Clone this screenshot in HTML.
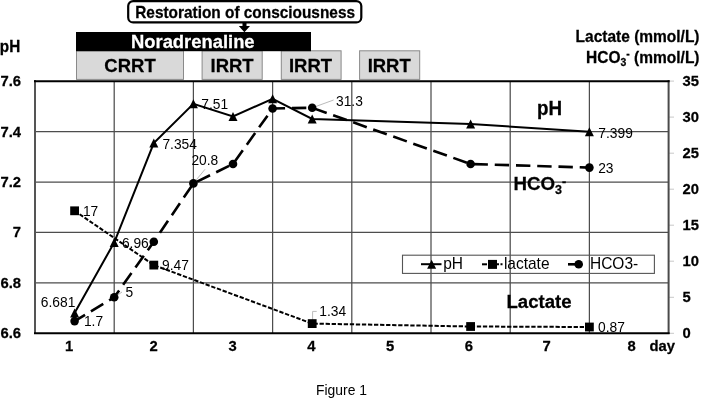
<!DOCTYPE html>
<html><head><meta charset="utf-8"><style>
html,body{margin:0;padding:0;background:#fff;width:709px;height:399px;overflow:hidden;}
svg{display:block;font-family:"Liberation Sans",sans-serif;will-change:transform;}
</style></head><body>
<svg width="709" height="399" viewBox="0 0 709 399">
<rect width="709" height="399" fill="#fff"/>
<line x1="114.2" y1="81" x2="114.2" y2="333" stroke="#4d4d4d" stroke-width="1.25"/>
<line x1="193.4" y1="81" x2="193.4" y2="333" stroke="#4d4d4d" stroke-width="1.25"/>
<line x1="272.6" y1="81" x2="272.6" y2="333" stroke="#4d4d4d" stroke-width="1.25"/>
<line x1="351.8" y1="81" x2="351.8" y2="333" stroke="#4d4d4d" stroke-width="1.25"/>
<line x1="431.0" y1="81" x2="431.0" y2="333" stroke="#4d4d4d" stroke-width="1.25"/>
<line x1="510.2" y1="81" x2="510.2" y2="333" stroke="#4d4d4d" stroke-width="1.25"/>
<line x1="589.4" y1="81" x2="589.4" y2="333" stroke="#4d4d4d" stroke-width="1.25"/>
<line x1="35" y1="131.5" x2="668.6" y2="131.5" stroke="#4d4d4d" stroke-width="1.25"/>
<line x1="35" y1="182.0" x2="668.6" y2="182.0" stroke="#4d4d4d" stroke-width="1.25"/>
<line x1="35" y1="232.4" x2="668.6" y2="232.4" stroke="#4d4d4d" stroke-width="1.25"/>
<line x1="35" y1="282.9" x2="668.6" y2="282.9" stroke="#4d4d4d" stroke-width="1.25"/>
<line x1="668.6" y1="333.3" x2="674" y2="333.3" stroke="#c8c8c8" stroke-width="1"/>
<line x1="668.6" y1="297.3" x2="674" y2="297.3" stroke="#c8c8c8" stroke-width="1"/>
<line x1="668.6" y1="261.2" x2="674" y2="261.2" stroke="#c8c8c8" stroke-width="1"/>
<line x1="668.6" y1="225.2" x2="674" y2="225.2" stroke="#c8c8c8" stroke-width="1"/>
<line x1="668.6" y1="189.2" x2="674" y2="189.2" stroke="#c8c8c8" stroke-width="1"/>
<line x1="668.6" y1="153.2" x2="674" y2="153.2" stroke="#c8c8c8" stroke-width="1"/>
<line x1="668.6" y1="117.1" x2="674" y2="117.1" stroke="#c8c8c8" stroke-width="1"/>
<line x1="668.6" y1="81.1" x2="674" y2="81.1" stroke="#c8c8c8" stroke-width="1"/>
<line x1="35" y1="80" x2="35" y2="334" stroke="#555" stroke-width="2"/>
<line x1="668.6" y1="80" x2="668.6" y2="334" stroke="#4a4a4a" stroke-width="2"/>
<line x1="34" y1="81.2" x2="669.6" y2="81.2" stroke="#000" stroke-width="2"/>
<line x1="34" y1="333.3" x2="669.6" y2="333.3" stroke="#000" stroke-width="2"/>
<rect x="402.5" y="255.2" width="251.9" height="18.2" fill="none" stroke="#555" stroke-width="1.1"/>
<polyline points="74.6,210.8 153.8,265.1 312.2,323.6 470.6,326.5 589.4,327.0" fill="none" stroke="#000" stroke-width="2" stroke-dasharray="4.3,1.75"/>
<polyline points="74.6,321.1 114.2,297.3 153.8,241.8 193.4,183.4 233.0,164.0 272.6,108.5 312.2,107.8 470.6,164.0 589.4,167.6" fill="none" stroke="#000" stroke-width="2.6" stroke-dasharray="14.4,6.85" stroke-dashoffset="2.20"/>
<polyline points="74.6,312.9 114.2,242.5 153.8,143.1 193.4,103.8 233.0,116.4 272.6,98.8 312.2,118.9 470.6,124.0 589.4,131.8" fill="none" stroke="#000" stroke-width="2"/>
<line x1="114.2" y1="297.3" x2="122" y2="292" stroke="#bbb" stroke-width="1"/>
<line x1="193.4" y1="183.4" x2="205" y2="169.3" stroke="#bbb" stroke-width="1"/>
<line x1="312.2" y1="107.8" x2="333.6" y2="100" stroke="#bbb" stroke-width="1"/>
<polyline points="312.6,323.6 312.6,311.4 316.7,311.4" fill="none" stroke="#bbb" stroke-width="1"/>
<rect x="70.2" y="206.4" width="8.8" height="8.8" fill="#000"/>
<rect x="149.4" y="260.7" width="8.8" height="8.8" fill="#000"/>
<rect x="307.8" y="319.2" width="8.8" height="8.8" fill="#000"/>
<rect x="466.2" y="322.1" width="8.8" height="8.8" fill="#000"/>
<rect x="585.0" y="322.6" width="8.8" height="8.8" fill="#000"/>
<circle cx="74.6" cy="321.1" r="4.3" fill="#000"/>
<circle cx="114.2" cy="297.3" r="4.3" fill="#000"/>
<circle cx="153.8" cy="241.8" r="4.3" fill="#000"/>
<circle cx="193.4" cy="183.4" r="4.3" fill="#000"/>
<circle cx="233.0" cy="164.0" r="4.3" fill="#000"/>
<circle cx="272.6" cy="108.5" r="4.3" fill="#000"/>
<circle cx="312.2" cy="107.8" r="4.3" fill="#000"/>
<circle cx="470.6" cy="164.0" r="4.3" fill="#000"/>
<circle cx="589.4" cy="167.6" r="4.3" fill="#000"/>
<polygon points="70.1,317.4 79.1,317.4 74.6,308.4" fill="#000"/>
<polygon points="109.7,247.0 118.7,247.0 114.2,238.0" fill="#000"/>
<polygon points="149.3,147.6 158.3,147.6 153.8,138.6" fill="#000"/>
<polygon points="188.9,108.3 197.9,108.3 193.4,99.3" fill="#000"/>
<polygon points="228.5,120.9 237.5,120.9 233.0,111.9" fill="#000"/>
<polygon points="268.1,103.3 277.1,103.3 272.6,94.3" fill="#000"/>
<polygon points="307.7,123.4 316.7,123.4 312.2,114.4" fill="#000"/>
<polygon points="466.1,128.5 475.1,128.5 470.6,119.5" fill="#000"/>
<polygon points="584.9,136.3 593.9,136.3 589.4,127.3" fill="#000"/>
<text transform="translate(40.8,307.0) scale(1,1.03)" font-family="Liberation Sans, sans-serif" font-size="13.8" fill="#000">6.681</text>
<text transform="translate(121.9,247.6) scale(1,1.03)" font-family="Liberation Sans, sans-serif" font-size="13.8" fill="#000">6.96</text>
<text transform="translate(162.4,148.6) scale(1,1.03)" font-family="Liberation Sans, sans-serif" font-size="13.8" fill="#000">7.354</text>
<text transform="translate(201.3,109.0) scale(1,1.03)" font-family="Liberation Sans, sans-serif" font-size="13.8" fill="#000">7.51</text>
<text transform="translate(336.0,106.0) scale(1,1.03)" font-family="Liberation Sans, sans-serif" font-size="13.8" fill="#000">31.3</text>
<text transform="translate(598.3,137.5) scale(1,1.03)" font-family="Liberation Sans, sans-serif" font-size="13.8" fill="#000">7.399</text>
<text transform="translate(82.9,215.9) scale(1,1.03)" font-family="Liberation Sans, sans-serif" font-size="13.8" fill="#000">17</text>
<text transform="translate(162.0,270.0) scale(1,1.03)" font-family="Liberation Sans, sans-serif" font-size="13.8" fill="#000">9.47</text>
<text transform="translate(319.3,316.2) scale(1,1.03)" font-family="Liberation Sans, sans-serif" font-size="13.8" fill="#000">1.34</text>
<text transform="translate(598.0,332.0) scale(1,1.03)" font-family="Liberation Sans, sans-serif" font-size="13.8" fill="#000">0.87</text>
<text transform="translate(83.9,326.3) scale(1,1.03)" font-family="Liberation Sans, sans-serif" font-size="13.8" fill="#000">1.7</text>
<text transform="translate(125.4,296.5) scale(1,1.03)" font-family="Liberation Sans, sans-serif" font-size="13.8" fill="#000">5</text>
<text transform="translate(191.4,164.8) scale(1,1.03)" font-family="Liberation Sans, sans-serif" font-size="13.8" fill="#000">20.8</text>
<text transform="translate(598.2,172.9) scale(1,1.03)" font-family="Liberation Sans, sans-serif" font-size="13.8" fill="#000">23</text>
<text transform="translate(537,114.6) scale(1,1.03)" font-family="Liberation Sans, sans-serif" font-size="18.8" font-weight="bold" stroke="currentColor" stroke-width="0.25">pH</text>
<text transform="translate(506.5,307.6) scale(1,1.03)" font-family="Liberation Sans, sans-serif" font-size="18.6" font-weight="bold" stroke="currentColor" stroke-width="0.25">Lactate</text>
<text transform="translate(513.5,189.7) scale(1,1.03)" font-family="Liberation Sans, sans-serif" font-size="18.7" font-weight="bold" stroke="currentColor" stroke-width="0.25">HCO<tspan font-size="12.5" dy="4.5">3</tspan><tspan font-size="12.5" dy="-8.3">-</tspan></text>
<line x1="421" y1="264.2" x2="441.5" y2="264.2" stroke="#000" stroke-width="2"/>
<polygon points="427.1,268.7 436.1,268.7 431.6,259.7" fill="#000"/>
<line x1="482" y1="264.3" x2="487" y2="264.3" stroke="#000" stroke-width="2"/>
<line x1="497" y1="264.3" x2="503" y2="264.3" stroke="#000" stroke-width="2" stroke-dasharray="2,1.5"/>
<rect x="488.0" y="259.9" width="9" height="9" fill="#000"/>
<line x1="568" y1="264.3" x2="576" y2="264.3" stroke="#000" stroke-width="2.6"/>
<circle cx="578.7" cy="264.3" r="4.3" fill="#000"/>
<text transform="translate(443.2,268.6) scale(1,1.03)" font-family="Liberation Sans, sans-serif" font-size="15.5">pH</text>
<text transform="translate(503.9,268.6) scale(1,1.03)" font-family="Liberation Sans, sans-serif" font-size="15.5">lactate</text>
<text transform="translate(590.0,268.6) scale(1,1.03)" font-family="Liberation Sans, sans-serif" font-size="15.5">HCO3-</text>
<text transform="translate(21,86.2) scale(1,1.03)" font-family="Liberation Sans, sans-serif" font-size="14.8" font-weight="bold" stroke="currentColor" stroke-width="0.25" text-anchor="end">7.6</text>
<text transform="translate(21,136.5) scale(1,1.03)" font-family="Liberation Sans, sans-serif" font-size="14.8" font-weight="bold" stroke="currentColor" stroke-width="0.25" text-anchor="end">7.4</text>
<text transform="translate(21,187.0) scale(1,1.03)" font-family="Liberation Sans, sans-serif" font-size="14.8" font-weight="bold" stroke="currentColor" stroke-width="0.25" text-anchor="end">7.2</text>
<text transform="translate(21,237.4) scale(1,1.03)" font-family="Liberation Sans, sans-serif" font-size="14.8" font-weight="bold" stroke="currentColor" stroke-width="0.25" text-anchor="end">7</text>
<text transform="translate(21,287.9) scale(1,1.03)" font-family="Liberation Sans, sans-serif" font-size="14.8" font-weight="bold" stroke="currentColor" stroke-width="0.25" text-anchor="end">6.8</text>
<text transform="translate(21,338.3) scale(1,1.03)" font-family="Liberation Sans, sans-serif" font-size="14.8" font-weight="bold" stroke="currentColor" stroke-width="0.25" text-anchor="end">6.6</text>
<text transform="translate(-0.2,51.6) scale(1,1.03)" font-family="Liberation Sans, sans-serif" font-size="15.3" font-weight="bold" stroke="currentColor" stroke-width="0.25">pH</text>
<text transform="translate(682.5,86.1) scale(1,1.03)" font-family="Liberation Sans, sans-serif" font-size="14.8" font-weight="bold" stroke="currentColor" stroke-width="0.25">35</text>
<text transform="translate(682.5,122.1) scale(1,1.03)" font-family="Liberation Sans, sans-serif" font-size="14.8" font-weight="bold" stroke="currentColor" stroke-width="0.25">30</text>
<text transform="translate(682.5,158.2) scale(1,1.03)" font-family="Liberation Sans, sans-serif" font-size="14.8" font-weight="bold" stroke="currentColor" stroke-width="0.25">25</text>
<text transform="translate(682.5,194.2) scale(1,1.03)" font-family="Liberation Sans, sans-serif" font-size="14.8" font-weight="bold" stroke="currentColor" stroke-width="0.25">20</text>
<text transform="translate(682.5,230.2) scale(1,1.03)" font-family="Liberation Sans, sans-serif" font-size="14.8" font-weight="bold" stroke="currentColor" stroke-width="0.25">15</text>
<text transform="translate(682.5,266.2) scale(1,1.03)" font-family="Liberation Sans, sans-serif" font-size="14.8" font-weight="bold" stroke="currentColor" stroke-width="0.25">10</text>
<text transform="translate(682.5,302.3) scale(1,1.03)" font-family="Liberation Sans, sans-serif" font-size="14.8" font-weight="bold" stroke="currentColor" stroke-width="0.25">5</text>
<text transform="translate(682.5,338.3) scale(1,1.03)" font-family="Liberation Sans, sans-serif" font-size="14.8" font-weight="bold" stroke="currentColor" stroke-width="0.25">0</text>
<text transform="translate(69.2,351.2) scale(1,1.03)" font-family="Liberation Sans, sans-serif" font-size="14.8" font-weight="bold" stroke="currentColor" stroke-width="0.25" text-anchor="middle">1</text>
<text transform="translate(153.6,351.2) scale(1,1.03)" font-family="Liberation Sans, sans-serif" font-size="14.8" font-weight="bold" stroke="currentColor" stroke-width="0.25" text-anchor="middle">2</text>
<text transform="translate(232.7,351.2) scale(1,1.03)" font-family="Liberation Sans, sans-serif" font-size="14.8" font-weight="bold" stroke="currentColor" stroke-width="0.25" text-anchor="middle">3</text>
<text transform="translate(311.4,351.2) scale(1,1.03)" font-family="Liberation Sans, sans-serif" font-size="14.8" font-weight="bold" stroke="currentColor" stroke-width="0.25" text-anchor="middle">4</text>
<text transform="translate(390.0,351.2) scale(1,1.03)" font-family="Liberation Sans, sans-serif" font-size="14.8" font-weight="bold" stroke="currentColor" stroke-width="0.25" text-anchor="middle">5</text>
<text transform="translate(468.8,351.2) scale(1,1.03)" font-family="Liberation Sans, sans-serif" font-size="14.8" font-weight="bold" stroke="currentColor" stroke-width="0.25" text-anchor="middle">6</text>
<text transform="translate(546.5,351.2) scale(1,1.03)" font-family="Liberation Sans, sans-serif" font-size="14.8" font-weight="bold" stroke="currentColor" stroke-width="0.25" text-anchor="middle">7</text>
<text transform="translate(631.5,351.2) scale(1,1.03)" font-family="Liberation Sans, sans-serif" font-size="14.8" font-weight="bold" stroke="currentColor" stroke-width="0.25" text-anchor="middle">8</text>
<text transform="translate(649.5,351.2) scale(1,1.03)" font-family="Liberation Sans, sans-serif" font-size="14.8" font-weight="bold" stroke="currentColor" stroke-width="0.25">day</text>
<text transform="translate(699.5,41.7) scale(1,1.03)" font-family="Liberation Sans, sans-serif" font-size="15.5" font-weight="bold" stroke="currentColor" stroke-width="0.25" text-anchor="end">Lactate (mmol/L)</text>
<text transform="translate(699.5,62.5) scale(1,1.03)" font-family="Liberation Sans, sans-serif" font-size="15.5" font-weight="bold" stroke="currentColor" stroke-width="0.25" text-anchor="end">HCO<tspan font-size="10.5" dy="3.5">3</tspan><tspan font-size="10.5" dy="-9">-</tspan><tspan dy="5.5"> (mmol/L)</tspan></text>
<rect x="128.2" y="1.1" width="233.1" height="21.3" rx="5" ry="5" fill="#fff" stroke="#000" stroke-width="2.2"/>
<text transform="translate(135.2,17.5) scale(1,1.03)" font-family="Liberation Sans, sans-serif" font-size="15.4" font-weight="bold" stroke="currentColor" stroke-width="0.25">Restoration of consciousness</text>
<polygon points="242.5,23 246.5,23 246.5,26 250,26 244.4,32.2 238.8,26 242.5,26" fill="#000"/>
<rect x="76.5" y="50.8" width="107.0" height="28.6" fill="#d9d9d9" stroke="#8a8a8a" stroke-width="1"/>
<rect x="202.1" y="50.8" width="60.1" height="28.6" fill="#d9d9d9" stroke="#8a8a8a" stroke-width="1"/>
<rect x="281.3" y="50.8" width="59.8" height="28.6" fill="#d9d9d9" stroke="#8a8a8a" stroke-width="1"/>
<rect x="359.6" y="50.8" width="60.1" height="28.6" fill="#d9d9d9" stroke="#8a8a8a" stroke-width="1"/>
<rect x="76" y="32" width="235" height="19.2" fill="#000"/>
<text transform="translate(131,48.4) scale(1,1.03)" font-family="Liberation Sans, sans-serif" font-size="18.4" font-weight="bold" stroke="#fff" stroke-width="0.25" fill="#fff">Noradrenaline</text>
<text transform="translate(130.0,72) scale(1,1.03)" font-family="Liberation Sans, sans-serif" font-size="18.5" font-weight="bold" stroke="currentColor" stroke-width="0.25" text-anchor="middle">CRRT</text>
<text transform="translate(232.1,72) scale(1,1.03)" font-family="Liberation Sans, sans-serif" font-size="18.5" font-weight="bold" stroke="currentColor" stroke-width="0.25" text-anchor="middle">IRRT</text>
<text transform="translate(310.5,72) scale(1,1.03)" font-family="Liberation Sans, sans-serif" font-size="18.5" font-weight="bold" stroke="currentColor" stroke-width="0.25" text-anchor="middle">IRRT</text>
<text transform="translate(389.2,72) scale(1,1.03)" font-family="Liberation Sans, sans-serif" font-size="18.5" font-weight="bold" stroke="currentColor" stroke-width="0.25" text-anchor="middle">IRRT</text>
<text transform="translate(316,394.7) scale(1,1.03)" font-family="Liberation Sans, sans-serif" font-size="13.9">Figure 1</text>
</svg>
</body></html>
